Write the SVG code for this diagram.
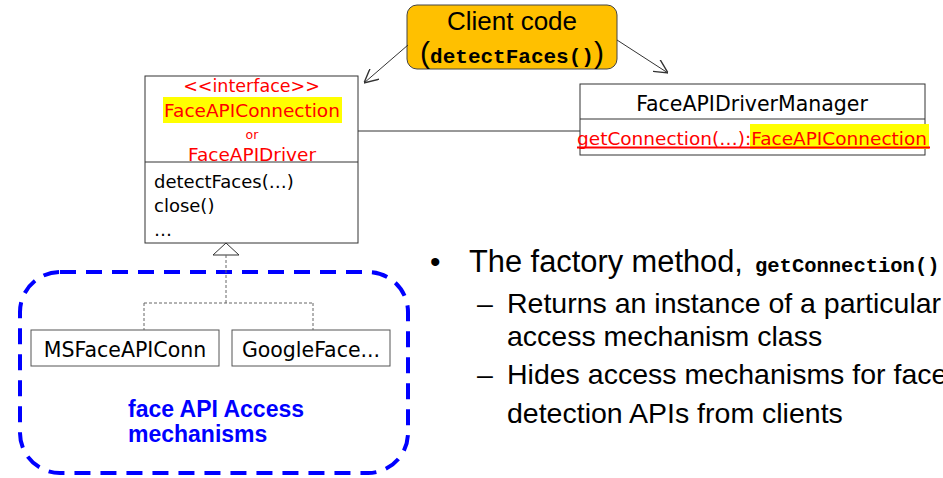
<svg xmlns="http://www.w3.org/2000/svg" width="943" height="478" viewBox="0 0 943 478">
<style>
.box{fill:#fff;stroke:#333;stroke-width:1}
.t{font-family:"DejaVu Sans",Verdana,sans-serif;fill:#000}
.red{fill:#f00}
.hl{fill:#ff0}
.a{font-family:"Liberation Sans",Arial,sans-serif;fill:#000}
.mono{font-family:"Liberation Mono","Courier New",monospace;font-weight:bold}
.conn{fill:none;stroke:#333;stroke-width:1}
.dash{fill:none;stroke:#666;stroke-width:1;stroke-dasharray:3 2}
</style>
<defs>
<marker id="open" viewBox="0 0 10 10" refX="10" refY="5" markerWidth="14" markerHeight="14" markerUnits="userSpaceOnUse" orient="auto">
<path d="M0,0 L10,5 L0,10" fill="none" stroke="#333" stroke-width="1"/>
</marker>
</defs>
<rect width="943" height="478" fill="#fff"/>

<g id="client">
<rect x="407" y="5" width="210" height="64" rx="10" fill="#FFC000" stroke="#444" stroke-width="1"/>
<text class="a" x="512" y="30" font-size="26" text-anchor="middle">Client code</text>
<text class="a" x="512" y="63" text-anchor="middle"><tspan font-size="30">(</tspan><tspan class="mono" font-size="21">detectFaces()</tspan><tspan font-size="30">)</tspan></text>
</g>

<g id="interface">
<rect class="box" x="145" y="76" width="213" height="167"/>
<line x1="145" y1="162" x2="358" y2="162" stroke="#333"/>
<text class="t red" x="251.5" y="92" font-size="17.5" text-anchor="middle">&lt;&lt;interface&gt;&gt;</text>
<rect class="hl" x="163" y="97" width="179" height="26"/>
<text class="t red" x="252" y="117" font-size="18.5" text-anchor="middle">FaceAPIConnection</text>
<text class="t red" x="252" y="139" font-size="12.5" text-anchor="middle">or</text>
<text class="t red" x="252" y="161" font-size="18.5" text-anchor="middle">FaceAPIDriver</text>
<text class="t" x="154" y="188" font-size="18">detectFaces(…)</text>
<text class="t" x="154" y="212" font-size="18">close()</text>
<text class="t" x="154" y="236" font-size="18">…</text>
</g>

<g id="manager">
<rect class="box" x="580" y="84" width="345" height="71"/>
<line x1="580" y1="119" x2="925" y2="119" stroke="#333"/>
<text class="t" x="752" y="111" font-size="20.5" text-anchor="middle">FaceAPIDriverManager</text>
<rect class="hl" x="750" y="124" width="179" height="25"/>
<text class="t red" x="577" y="145" font-size="18.5">getConnection(…):FaceAPIConnection</text>
<line x1="577" y1="147.5" x2="930" y2="147.5" stroke="#f00" stroke-width="2"/>
</g>

<g id="msconn">
<rect x="31" y="330" width="188" height="36" fill="#fff" stroke="#555"/>
<text class="t" x="125" y="357" font-size="20.5" text-anchor="middle">MSFaceAPIConn</text>
</g>

<g id="googleconn">
<rect x="232" y="330" width="158" height="36" fill="#fff" stroke="#555"/>
<text class="t" x="311" y="357" font-size="20.5" text-anchor="middle">GoogleFace...</text>
</g>

<g id="mechanisms">
<rect x="20" y="272" width="388" height="201" rx="40" fill="none" stroke="#0000FF" stroke-width="4" stroke-dasharray="16 10"/>
<text class="a" x="128" y="417" font-size="23" font-weight="bold" style="fill:#0000FF">face API Access</text>
<text class="a" x="128" y="442" font-size="23" font-weight="bold" style="fill:#0000FF">mechanisms</text>
</g>

<g id="connectors">
<line class="conn" x1="358" y1="131" x2="580" y2="131"/>
<line class="conn" x1="408" y1="45" x2="364" y2="83" marker-end="url(#open)"/>
<line class="conn" x1="617" y1="40" x2="668" y2="73" marker-end="url(#open)"/>
<polygon points="226,243 213,255 239,255" fill="#fff" stroke="#333"/>
<path class="dash" d="M226,255 V303 M144,303 H313 M144,303 V330 M313,303 V330"/>
</g>

<g id="bullets">
<text class="a" x="430" y="272" font-size="30">•</text>
<text class="a" x="469" y="272" font-size="30.8">The factory method,</text>
<text class="a mono" x="755" y="272" font-size="20.5">getConnection()</text>
<text class="a" x="477" y="313" font-size="28.5">–</text>
<text class="a" x="507" y="313" font-size="28.5">Returns an instance of a particular</text>
<text class="a" x="507" y="346" font-size="28.5">access mechanism class</text>
<text class="a" x="477" y="384" font-size="28.5">–</text>
<text class="a" x="507" y="384" font-size="28.5">Hides access mechanisms for face</text>
<text class="a" x="507" y="423" font-size="28.5">detection APIs from clients</text>
</g>
</svg>
